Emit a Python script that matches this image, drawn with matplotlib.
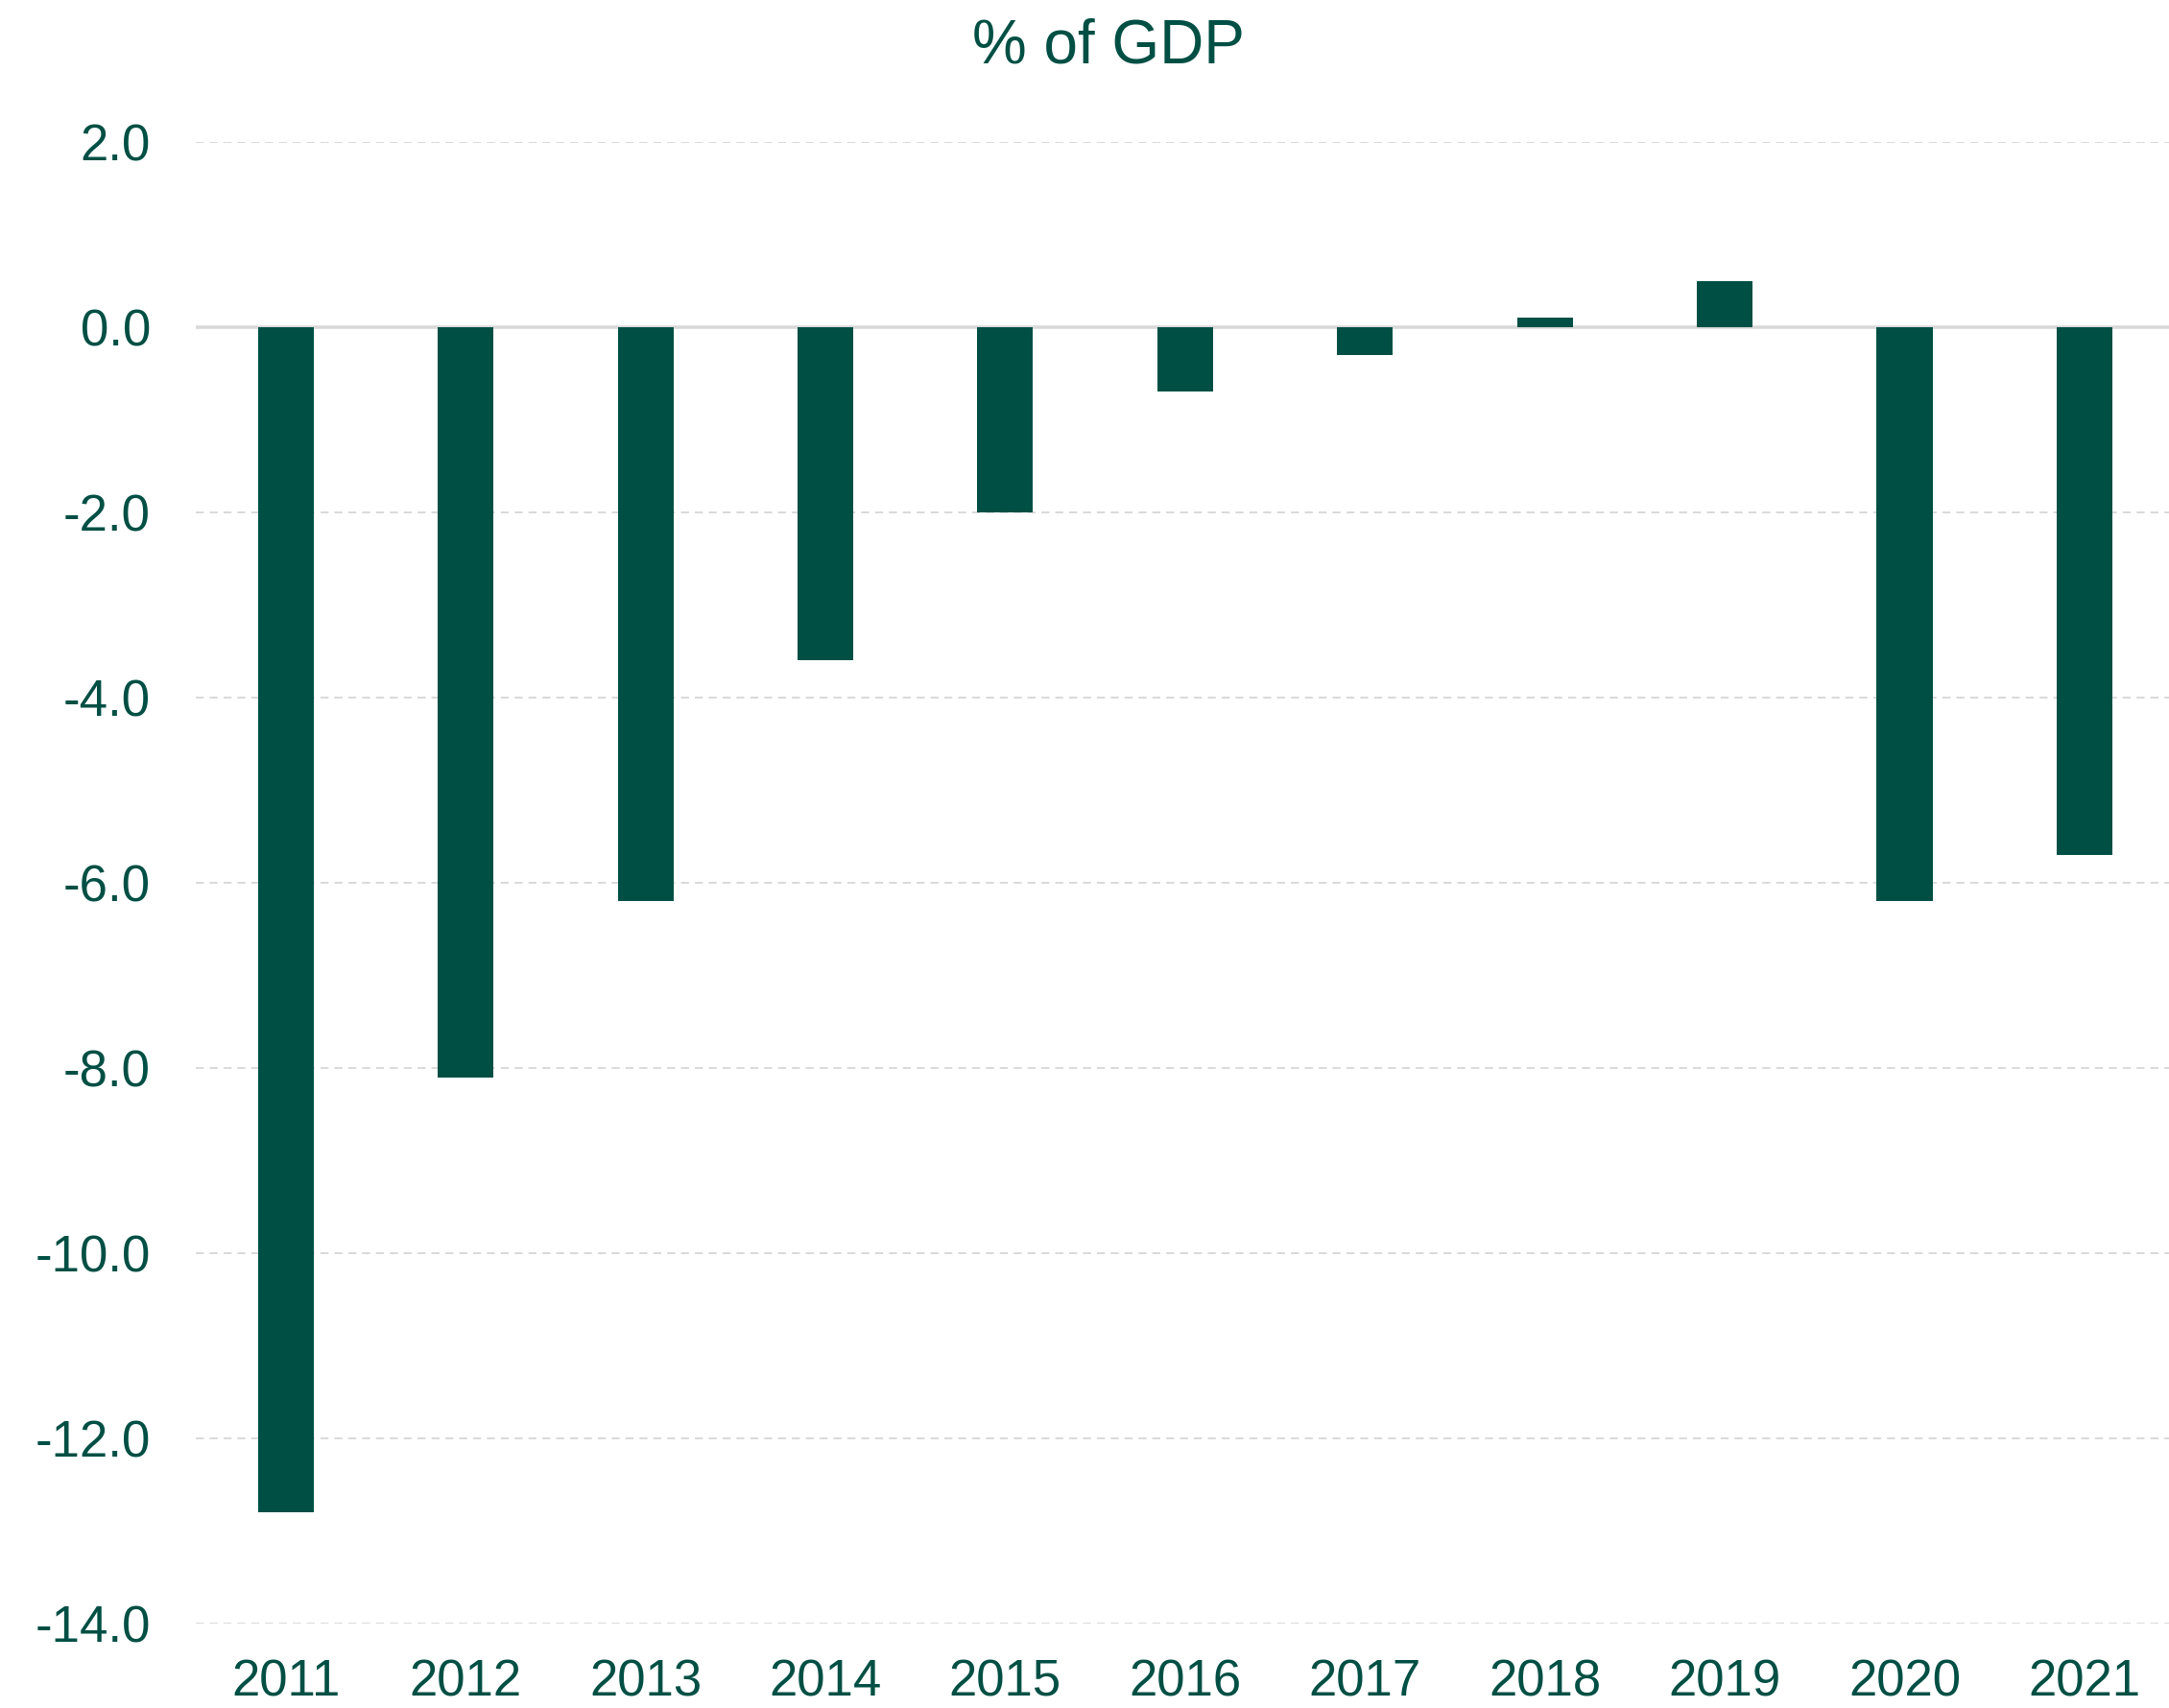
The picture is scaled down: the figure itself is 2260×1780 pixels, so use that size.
import matplotlib.pyplot as plt
import numpy as np

# --- DATA ---
years = ["2011", "2012", "2013", "2014", "2015", "2016",
         "2017", "2018", "2019", "2020", "2021"]
balance_pct_gdp = [-12.8, -8.1, -6.2, -3.6, -2.0, -0.7, -0.3, 0.1, 0.5, -6.2, -5.7]
y_ticks = [2.0, 0.0, -2.0, -4.0, -6.0, -8.0, -10.0, -12.0, -14.0]

# --- STYLE ---
GREEN = "#004f44"
GRID = "#d9d9d9"
plt.rcParams["font.family"] = ["Liberation Sans", "DejaVu Sans"]
plt.rcParams["lines.scale_dashes"] = False

fig = plt.figure(figsize=(11.3, 8.9), dpi=200)
ax = fig.add_axes([0.0903, 0.0494, 0.9097, 0.8675])

x = np.arange(len(years))
ax.bar(x, balance_pct_gdp, width=0.31, color=GREEN, zorder=3)

# dashed horizontal gridlines, solid line at zero
for t in y_ticks:
    if t == 0:
        ax.axhline(t, color=GRID, lw=1.3, zorder=2)
    else:
        ax.axhline(t, color=GRID, lw=0.7, linestyle=(0, (3, 2.2)), zorder=1)

ax.set_ylim(-14, 2)
ax.set_xlim(-0.5, 10.47)
ax.set_yticks(y_ticks)
ax.set_yticklabels([f"{t:.1f}" for t in y_ticks])
ax.set_xticks(x)
ax.set_xticklabels(years)
ax.tick_params(axis="both", length=0, labelsize=19, labelcolor=GREEN)
ax.tick_params(axis="y", pad=17)
ax.tick_params(axis="x", pad=13)

for side in ax.spines.values():
    side.set_visible(False)

fig.text(0.511, 0.963, "% of GDP", ha="center", va="baseline",
         fontsize=23, color=GREEN)

fig.savefig("out.png", dpi=200, facecolor="white")
